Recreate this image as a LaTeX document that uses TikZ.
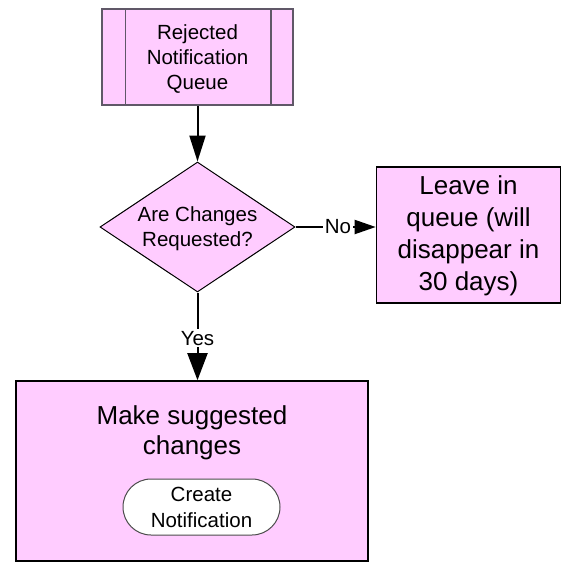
\documentclass[tikz,border=0pt]{standalone}
\usepackage{fontspec}
\setmainfont{Liberation Sans}
\usetikzlibrary{shapes.geometric,arrows.meta,calc}
\definecolor{pinkfill}{HTML}{FFCCFF}
\definecolor{edgegray}{HTML}{605868}
\begin{document}
\begin{tikzpicture}[x=1pt,y=-1pt,
  smalltext/.style={font=\fontsize{20.5}{25}\selectfont, align=center},
  bigtext/.style={font=\fontsize{26}{32.5}\selectfont, align=center},
  pinkbox/.style={draw=black, fill=pinkfill, line width=1.6pt, inner sep=0pt},
  conn/.style={line width=2pt, draw=black},
  lbl/.style={fill=white, inner sep=1.5pt, font=\fontsize{20.5}{25}\selectfont}
]
\useasboundingbox (0,0) rectangle (568,563);
% top predefined process
\node[draw=edgegray, fill=pinkfill, line width=1.5pt, minimum width=191pt, minimum height=96pt, inner sep=0pt] (q) at (197.5,57) {};
\draw[draw=edgegray, line width=1.5pt] ($(q.north west)+(24,0)$) -- ($(q.south west)+(24,0)$);
\draw[draw=edgegray, line width=1.5pt] ($(q.north east)+(-23,0)$) -- ($(q.south east)+(-23,0)$);
\node[smalltext] (qt) at (197.5,59) {Rejected\\Notification\\Queue};
% decision
\node[diamond, draw=black, fill=pinkfill, line width=1pt, minimum width=195pt, minimum height=130pt, inner sep=0pt, aspect=1.5] (d) at (197.5,227) {};
\node[smalltext] (dt) at (197.5,229) {Are Changes\\Requested?};
% right box
\node[pinkbox, minimum width=184pt, minimum height=136pt] (r) at (468.5,235) {};
\node[bigtext, font=\fontsize{26}{32}\selectfont] (rt) at (468.5,236) {Leave in\\queue (will\\disappear in\\30 days)};
% bottom box
\node[pinkbox, minimum width=352pt, minimum height=180pt] (m) at (192,471) {};
\node[bigtext, font=\fontsize{26}{30}\selectfont] (mt) at (192,433) {Make suggested\\changes};
\node[draw=black!70, fill=white, line width=1pt, rounded corners=28pt, minimum width=157pt, minimum height=56pt, inner sep=0pt] (c) at (201.5,507) {};
\node[smalltext, font=\fontsize{20.5}{26}\selectfont] (ct) at (201.5,507) {Create\\Notification};
% connectors
\draw[conn, -{Triangle[length=26pt,width=16pt]}] (q.south) -- (d.north);
\draw[conn, -{Triangle[length=21pt,width=14pt]}] (d.east) -- node[lbl, pos=0.53] (no) {No} (d.east -| r.west);
\draw[conn, -{Triangle[length=27pt,width=20pt]}] (d.south) -- node[lbl, pos=0.52] (yes) {Yes} (d.south |- m.north);
\end{tikzpicture}
\end{document}
